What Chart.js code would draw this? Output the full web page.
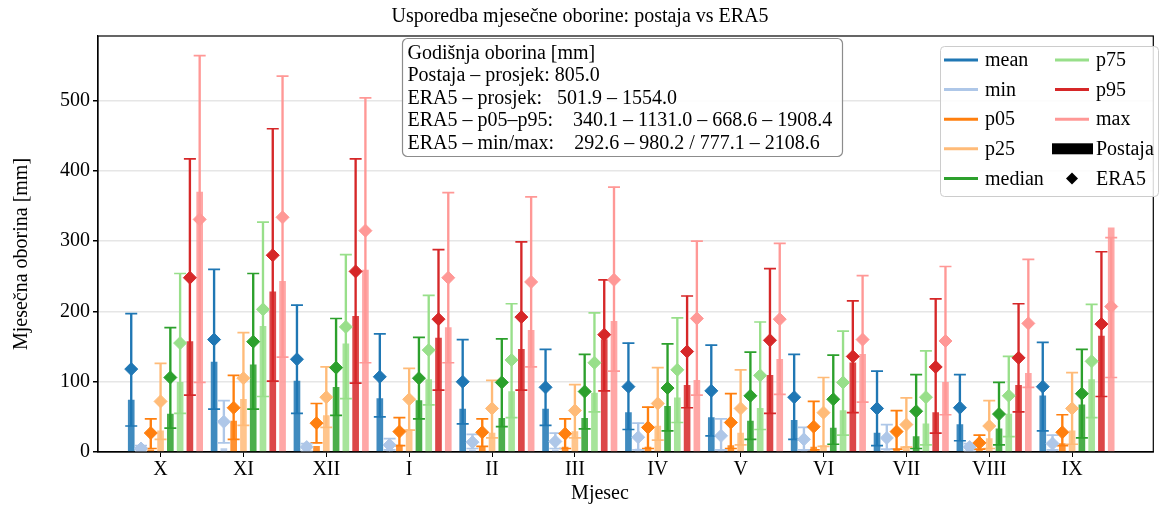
<!DOCTYPE html>
<html lang="hr">
<head>
<meta charset="UTF-8">
<script src="https://cdn.jsdelivr.net/npm/chart.js"></script>
<title>Usporedba mjesečne oborine</title>
<style>
  html, body { margin: 0; padding: 0; background: #fff; }
</style>
</head>
<body>
<canvas id="chart" width="1161" height="506"></canvas>
<script>
// months (hydrological year, Oct..Sep) and statistics
const months = ['X', 'XI', 'XII', 'I', 'II', 'III', 'IV', 'V', 'VI', 'VII', 'VIII', 'IX'];
const stats = ['mean', 'min', 'p05', 'p25', 'median', 'p75', 'p95', 'max'];
const colors = ['#1f77b4', '#aec7e8', '#ff7f0e', '#ffbb78', '#2ca02c', '#98df8a', '#d62728', '#ff9896'];
const yTicks = [0, 100, 200, 300, 400, 500];

// Postaja (bars) - one row per statistic, columns X..IX
const postaja = [
  [74, 128, 101, 76, 61, 61, 56, 49, 45, 27, 39, 80],
  [2, 5, 2, 4, 3, 3, 4, 3, 3, 2, 2, 3],
  [3, 44, 8, 10, 8, 7, 7, 9, 7, 4, 4, 12],
  [30, 75, 52, 32, 27, 29, 37, 27, 9, 8, 19, 30],
  [54, 124, 92, 73, 48, 48, 65, 44, 34, 22, 33, 67],
  [99, 179, 154, 103, 86, 84, 77, 62, 59, 40, 54, 103],
  [157, 228, 193, 162, 146, 160, 95, 109, 127, 56, 95, 165],
  [370, 243, 259, 177, 173, 186, 102, 132, 139, 99, 112, 319]
];

// ERA5 (diamonds) - central value
const era5 = [
  [118, 160, 132, 107, 100, 92, 93, 87, 78, 62, 63, 93],
  [5, 43, 7, 10, 14, 15, 21, 23, 18, 20, 7, 12],
  [27, 63, 41, 29, 28, 26, 35, 42, 36, 29, 13, 28],
  [72, 105, 78, 75, 62, 59, 69, 62, 56, 39, 37, 62],
  [106, 157, 120, 105, 99, 86, 91, 80, 75, 58, 54, 83],
  [155, 203, 178, 145, 131, 127, 117, 109, 99, 78, 80, 129],
  [248, 280, 257, 189, 192, 167, 143, 159, 136, 121, 134, 182],
  [331, 334, 315, 248, 242, 245, 190, 189, 160, 158, 183, 207]
];

// ERA5 range (error bars) - low and high
const era5Lo = [
  [37, 61, 55, 50, 40, 38, 32, 23, 18, 9, 16, 30],
  [1, 13, 1, 3, 5, 5, 3, 3, 3, 4, 1, 3],
  [5, 18, 13, 9, 8, 5, 5, 5, 3, 4, 4, 9],
  [18, 38, 35, 31, 20, 20, 17, 10, 8, 7, 5, 11],
  [34, 61, 52, 47, 36, 33, 30, 18, 11, 5, 10, 20],
  [55, 79, 76, 67, 49, 57, 42, 32, 24, 10, 22, 49],
  [81, 101, 98, 88, 88, 87, 63, 55, 56, 27, 57, 79],
  [99, 135, 127, 127, 121, 115, 81, 82, 71, 53, 92, 106]
];
const era5Hi = [
  [197, 260, 209, 168, 160, 146, 155, 152, 139, 115, 110, 156],
  [9, 73, 12, 19, 25, 27, 41, 47, 35, 39, 12, 24],
  [47, 109, 69, 49, 47, 47, 64, 83, 72, 59, 24, 53],
  [126, 170, 121, 119, 102, 96, 120, 117, 106, 77, 73, 113],
  [177, 254, 190, 163, 161, 139, 154, 142, 138, 110, 99, 146],
  [254, 327, 281, 223, 211, 198, 191, 185, 172, 144, 136, 210],
  [417, 460, 417, 288, 299, 245, 222, 261, 215, 218, 211, 285],
  [564, 535, 504, 369, 363, 377, 300, 297, 251, 264, 274, 305]
];

const infoLines = [
  'Godišnja oborina [mm]',
  'Postaja – prosjek: 805.0',
  'ERA5 – prosjek:   501.9 – 1554.0',
  'ERA5 – p05–p95:    340.1 – 1131.0 – 668.6 – 1908.4',
  'ERA5 – min/max:    292.6 – 980.2 / 777.1 – 2108.6'
];

const SERIF = "'Liberation Serif', 'Times New Roman', serif";
const FS = 20;
const W = 0.118; // spacing of the 8 statistics inside one month

function xPos(s, i) { return i + (s - 3) * W; }

function withAlpha(hex, a) {
  const n = parseInt(hex.slice(1), 16);
  return `rgba(${n >> 16}, ${(n >> 8) & 255}, ${n & 255}, ${a})`;
}

const datasets = [];
stats.forEach((name, s) => {
  // ERA5 range line
  datasets.push({
    type: 'bar', label: name + ' ERA5 raspon', grouped: false, order: 4, clip: 0,
    barThickness: 1.7, maxBarThickness: 1.7, backgroundColor: colors[s],
    data: months.map((m, i) => ({ x: xPos(s, i), y: [era5Lo[s][i], era5Hi[s][i]] }))
  });
  // Postaja bar
  datasets.push({
    type: 'bar', label: name + ' Postaja', grouped: false, order: 3, clip: 0,
    barThickness: 6, maxBarThickness: 6, backgroundColor: withAlpha(colors[s], 0.85),
    data: months.map((m, i) => ({ x: xPos(s, i), y: postaja[s][i] }))
  });
  // caps of the ERA5 range
  datasets.push({
    type: 'line', label: name + ' caps', showLine: false, order: 2, clip: 0,
    pointStyle: 'line', pointRadius: 6, pointBorderWidth: 1.7, pointBorderColor: colors[s],
    data: months.flatMap((m, i) => [{ x: xPos(s, i), y: era5Lo[s][i] }, { x: xPos(s, i), y: era5Hi[s][i] }])
  });
  // ERA5 diamond
  datasets.push({
    type: 'line', label: name + ' ERA5', showLine: false, order: 1, clip: 0,
    pointStyle: 'rectRot', pointRadius: 6.5, pointBorderWidth: 1,
    pointBackgroundColor: colors[s], pointBorderColor: colors[s],
    data: months.map((m, i) => ({ x: xPos(s, i), y: era5[s][i] }))
  });
});

// frame, axis titles, info box and legend drawn on top
const decorations = {
  id: 'decorations',
  afterDraw(chart) {
    const ctx = chart.ctx;
    const a = chart.chartArea;
    ctx.save();

    // axes frame
    ctx.strokeStyle = '#000';
    ctx.lineWidth = 1.2;
    ctx.strokeRect(a.left, a.top, a.right - a.left, a.bottom - a.top);

    ctx.fillStyle = '#000';
    ctx.font = `${FS}px ${SERIF}`;
    ctx.textBaseline = 'middle';
    ctx.textAlign = 'center';
    ctx.fillText('Mjesec', 600, 494);
    ctx.save();
    ctx.translate(22, 254);
    ctx.rotate(-Math.PI / 2);
    ctx.fillText('Mjesečna oborina [mm]', 0, 0);
    ctx.restore();

    // info box
    ctx.beginPath();
    ctx.roundRect(402.5, 38.5, 440, 118, 5);
    ctx.fillStyle = 'rgba(255,255,255,0.9)';
    ctx.fill();
    ctx.strokeStyle = '#8c8c8c';
    ctx.lineWidth = 1.2;
    ctx.stroke();
    ctx.fillStyle = '#000';
    ctx.textAlign = 'left';
    infoLines.forEach((t, k) => ctx.fillText(t, 407.5, 53.5 + k * 22.5));

    // legend
    const lx = 940.5, ly = 46.5;
    ctx.beginPath();
    ctx.roundRect(lx, ly, 218, 150, 4);
    ctx.fillStyle = 'rgba(255,255,255,0.85)';
    ctx.fill();
    ctx.strokeStyle = '#cccccc';
    ctx.lineWidth = 1;
    ctx.stroke();

    const entries = stats.map((name, s) => ({ name, color: colors[s], kind: 'line' }));
    entries.push({ name: 'Postaja', color: '#000', kind: 'bar' });
    entries.push({ name: 'ERA5', color: '#000', kind: 'diamond' });
    entries.forEach((e, k) => {
      const col = k < 5 ? 0 : 1;
      const row = k % 5;
      const y = 60 + row * 29.6;
      const x0 = col === 0 ? 944 : 1055;
      if (e.kind === 'line') {
        ctx.strokeStyle = e.color;
        ctx.lineWidth = 3;
        ctx.beginPath();
        ctx.moveTo(x0, y);
        ctx.lineTo(x0 + 34, y);
        ctx.stroke();
      } else if (e.kind === 'bar') {
        ctx.fillStyle = '#000';
        ctx.fillRect(x0 - 3, y - 5.5, 41, 11);
      } else {
        ctx.fillStyle = '#000';
        ctx.beginPath();
        ctx.moveTo(x0 + 17, y - 6);
        ctx.lineTo(x0 + 23, y);
        ctx.lineTo(x0 + 17, y + 6);
        ctx.lineTo(x0 + 11, y);
        ctx.closePath();
        ctx.fill();
      }
      ctx.fillStyle = '#000';
      ctx.fillText(e.name, x0 + 41, y + 1);
    });
    ctx.restore();
  }
};

const font = { family: SERIF, size: FS, weight: 'normal' };

new Chart(document.getElementById('chart'), {
  type: 'bar',
  data: { datasets },
  plugins: [decorations],
  options: {
    responsive: false,
    animation: false,
    devicePixelRatio: 1,
    layout: { padding: { left: 0, right: 1, top: 0, bottom: 0 } },
    plugins: {
      legend: { display: false },
      tooltip: { enabled: false },
      title: {
        display: true,
        text: 'Usporedba mjesečne oborine: postaja vs ERA5',
        color: '#000',
        font: font,
        padding: { top: 5, bottom: 7 }
      }
    },
    scales: {
      x: {
        type: 'linear',
        min: -0.755,
        max: 11.98,
        offset: false,
        afterBuildTicks: scale => { scale.ticks = months.map((m, i) => ({ value: i })); },
        afterFit: scale => { scale.height = 54; },
        ticks: {
          callback: v => months[v],
          color: '#000', font: font, padding: 1, maxRotation: 0, autoSkip: false
        },
        grid: { offset: false, drawOnChartArea: false, drawTicks: true, tickLength: 5, tickColor: '#000', lineWidth: 1 },
        border: { display: true, color: '#000', width: 1.2 },
        title: { display: false }
      },
      y: {
        min: 0,
        max: 592,
        afterBuildTicks: scale => { scale.ticks = yTicks.map(v => ({ value: v })); },
        afterFit: scale => { scale.width = 98; },
        ticks: { color: '#000', font: font, padding: 3 },
        grid: { color: '#e6e6e6', lineWidth: 1.5, tickColor: '#000', tickLength: 5 },
        border: { display: true, color: '#000', width: 1.2 },
        title: { display: false }
      }
    }
  }
});
</script>
</body>
</html>
